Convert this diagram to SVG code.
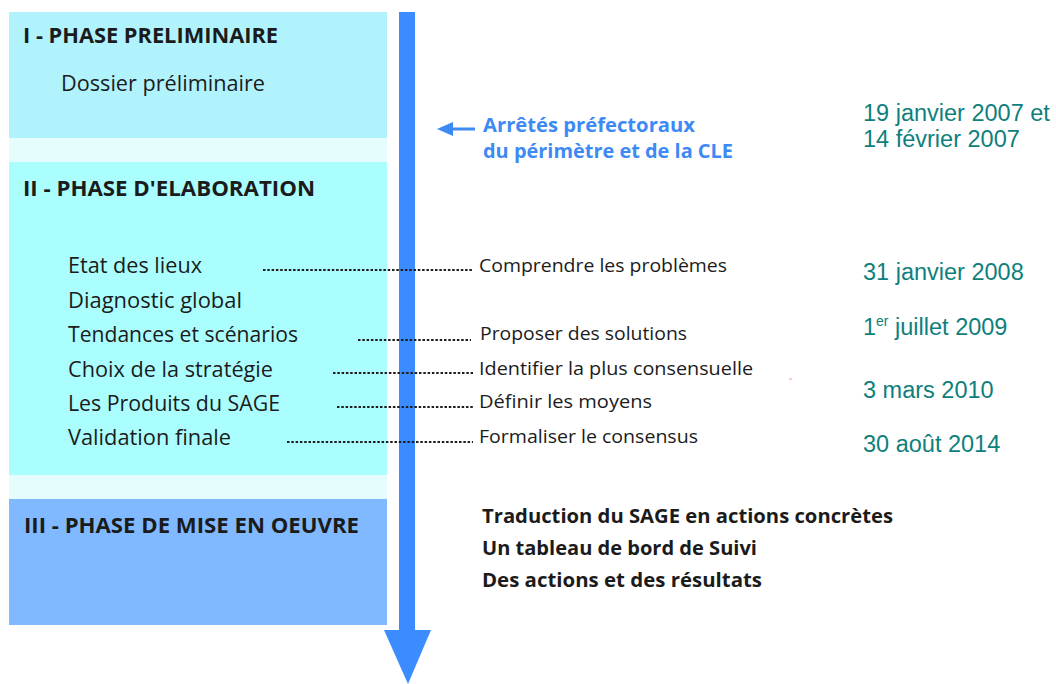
<svg xmlns="http://www.w3.org/2000/svg" width="1056" height="684" viewBox="0 0 1056 684">
<style>
.t{font-family:"Open Sans","Liberation Sans",sans-serif;fill:#1b1b1b}
.b{font-weight:700}
.ttl{font-size:21px}
.it{font-size:21px}
.lb{font-size:18.5px}
.bl{font-size:19.5px;font-weight:700;fill:#3d8af5}
.dt{font-family:"Liberation Sans",Arial,sans-serif;font-size:23.5px;fill:#0e7f7c}
.dot{stroke:#1e1e1e;stroke-width:1.8;stroke-dasharray:2.5 1.8;fill:none}
</style>
<rect width="1056" height="684" fill="#ffffff"/>
<g id="gaps">
<rect x="9" y="138" width="378" height="24" fill="#e6fdfe"/>
<rect x="9" y="475" width="378" height="24" fill="#e6fdfe"/>
</g>
<g id="phase1">
<rect x="9" y="12" width="378" height="126" fill="#b0f3fd"/>
<text class="t b ttl" x="23" y="43" textLength="255" lengthAdjust="spacingAndGlyphs">I - PHASE PRELIMINAIRE</text>
<text class="t it" x="61" y="91" textLength="204" lengthAdjust="spacingAndGlyphs">Dossier préliminaire</text>
</g>
<g id="phase2">
<rect x="9" y="162" width="378" height="313" fill="#aafefe"/>
<text class="t b ttl" x="23" y="196" textLength="292" lengthAdjust="spacingAndGlyphs">II - PHASE D'ELABORATION</text>
<text class="t it" x="68" y="273" textLength="134" lengthAdjust="spacingAndGlyphs">Etat des lieux</text>
<text class="t it" x="68" y="308" textLength="174" lengthAdjust="spacingAndGlyphs">Diagnostic global</text>
<text class="t it" x="68" y="342" textLength="230" lengthAdjust="spacingAndGlyphs">Tendances et scénarios</text>
<text class="t it" x="68" y="377" textLength="205" lengthAdjust="spacingAndGlyphs">Choix de la stratégie</text>
<text class="t it" x="68" y="411" textLength="212" lengthAdjust="spacingAndGlyphs">Les Produits du SAGE</text>
<text class="t it" x="68" y="445" textLength="163" lengthAdjust="spacingAndGlyphs">Validation finale</text>
</g>
<g id="phase3">
<rect x="9" y="499" width="378" height="126" fill="#80b9ff"/>
<text class="t b ttl" x="24" y="533" textLength="335" lengthAdjust="spacingAndGlyphs">III - PHASE DE MISE EN OEUVRE</text>
</g>
<g id="timeline">
<rect x="399" y="12" width="16" height="619" fill="#3a8cff"/>
<polygon points="384,630 431,630 408,684" fill="#3a8cff"/>
</g>
<g id="connectors">
<line class="dot" x1="263" y1="270" x2="473" y2="270"/>
<line class="dot" x1="358" y1="340" x2="471" y2="340"/>
<line class="dot" x1="333" y1="373" x2="473" y2="373"/>
<line class="dot" x1="337" y1="407" x2="473" y2="407"/>
<line class="dot" x1="287" y1="442" x2="473" y2="442"/>
<line x1="450" y1="129" x2="475" y2="129" stroke="#3d8af5" stroke-width="3"/>
<polygon points="437,129 453,122 453,136" fill="#3d8af5"/>
</g>
<g id="objectives">
<text class="t lb" x="479" y="272" textLength="248" lengthAdjust="spacingAndGlyphs">Comprendre les problèmes</text>
<text class="t lb" x="480" y="340" textLength="207" lengthAdjust="spacingAndGlyphs">Proposer des solutions</text>
<text class="t lb" x="479" y="375" textLength="274" lengthAdjust="spacingAndGlyphs">Identifier la plus consensuelle</text>
<text class="t lb" x="479" y="408" textLength="173" lengthAdjust="spacingAndGlyphs">Définir les moyens</text>
<text class="t lb" x="479" y="443" textLength="219" lengthAdjust="spacingAndGlyphs">Formaliser le consensus</text>
</g>
<g id="arretes">
<text class="t bl" x="483" y="132" textLength="212" lengthAdjust="spacingAndGlyphs">Arrêtés préfectoraux</text>
<text class="t bl" x="483" y="158" textLength="250" lengthAdjust="spacingAndGlyphs">du périmètre et de la CLE</text>
</g>
<g id="mise-en-oeuvre">
<text class="t b" font-size="20" x="482" y="523" textLength="411" lengthAdjust="spacingAndGlyphs">Traduction du SAGE en actions concrètes</text>
<text class="t b" font-size="20" x="482" y="555" textLength="275" lengthAdjust="spacingAndGlyphs">Un tableau de bord de Suivi</text>
<text class="t b" font-size="20" x="482" y="587" textLength="280" lengthAdjust="spacingAndGlyphs">Des actions et des résultats</text>
</g>
<g id="dates">
<text class="dt" x="863" y="121">19 janvier 2007 et</text>
<text class="dt" x="863" y="147">14 février 2007</text>
<text class="dt" x="863" y="280">31 janvier 2008</text>
<text class="dt" x="863" y="335">1<tspan font-size="14" dy="-9">er</tspan><tspan dy="9"> juillet 2009</tspan></text>
<text class="dt" x="863" y="398">3 mars 2010</text>
<text class="dt" x="863" y="452">30 août 2014</text>
</g>
<ellipse cx="790.5" cy="379" rx="1.5" ry="1" fill="#f7b8cf"/>
</svg>
